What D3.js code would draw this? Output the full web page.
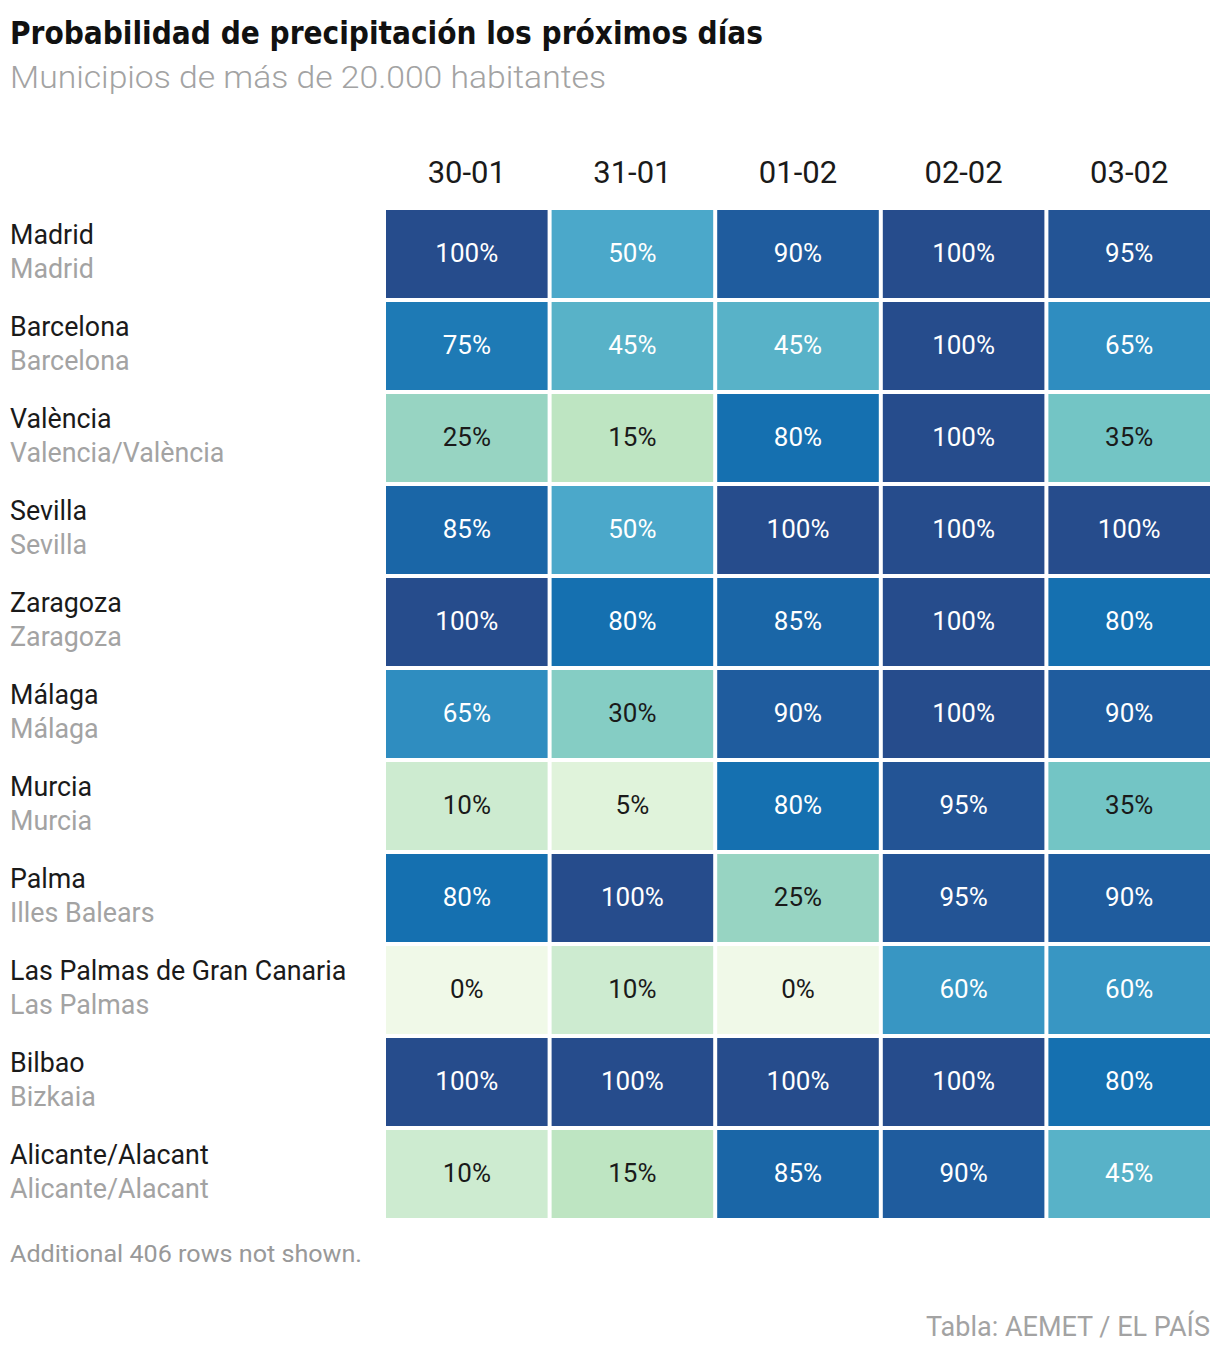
<!DOCTYPE html>
<html>
<head>
<meta charset="utf-8">
<script src="https://cdn.jsdelivr.net/npm/d3@7"></script>
<style>
  body { margin: 0; background: #fff; }
  text { font-family: Roboto, "Noto Sans", sans-serif; }
</style>
</head>
<body>
<script>
const days = ["30-01", "31-01", "01-02", "02-02", "03-02"];
const cities = ["Madrid", "Barcelona", "València", "Sevilla", "Zaragoza", "Málaga",
  "Murcia", "Palma", "Las Palmas de Gran Canaria", "Bilbao", "Alicante/Alacant"];
const provinces = ["Madrid", "Barcelona", "Valencia/València", "Sevilla", "Zaragoza", "Málaga",
  "Murcia", "Illes Balears", "Las Palmas", "Bizkaia", "Alicante/Alacant"];
const probs = [
  [100, 50, 90, 100, 95],
  [75, 45, 45, 100, 65],
  [25, 15, 80, 100, 35],
  [85, 50, 100, 100, 100],
  [100, 80, 85, 100, 80],
  [65, 30, 90, 100, 90],
  [10, 5, 80, 95, 35],
  [80, 100, 25, 95, 90],
  [0, 10, 0, 60, 60],
  [100, 100, 100, 100, 80],
  [10, 15, 85, 90, 45]
];

const width = 1220, height = 1356;

const svg = d3.select("body").append("svg")
  .attr("width", width)
  .attr("height", height);

// Title + subtitle
svg.append("text")
  .attr("x", 10).attr("y", 44)
  .attr("textLength", 753).attr("lengthAdjust", "spacingAndGlyphs")
  .style("font-family", "'Liberation Sans Narrow', 'DejaVu Sans Condensed', Roboto, sans-serif")
  .style("font-weight", 700)
  .style("font-size", "32px")
  .attr("fill", "#111")
  .text("Probabilidad de precipitación los próximos días");

svg.append("text")
  .attr("x", 10).attr("y", 88)
  .attr("textLength", 596).attr("lengthAdjust", "spacingAndGlyphs")
  .style("font-weight", 300)
  .style("font-size", "32px")
  .attr("fill", "#a3a3a3")
  .text("Municipios de más de 20.000 habitantes");

// Scales
const x = d3.scaleBand().domain(days).range([384, 1212]);
const y = d3.scaleBand().domain(d3.range(cities.length)).range([208, 1220]);
const color = d3.scaleLinear()
  .domain([0, 5, 10, 15, 25, 35, 50, 65, 80, 90, 100])
  .range(["#f0f9e8", "#e0f3db", "#cdebd0", "#bee5c2", "#97d4c2", "#73c5c5",
          "#4ba8ca", "#2f8dc0", "#1570b0", "#1f5c9e", "#264c8c"]);

// Column headers
svg.selectAll(".col")
  .data(days)
  .join("text")
  .attr("class", "col")
  .attr("x", d => x(d) + x.bandwidth() / 2)
  .attr("y", 183)
  .attr("text-anchor", "middle")
  .style("font-size", "31px")
  .attr("fill", "#1a1a1a")
  .text(d => d);

// Row labels
const rows = svg.selectAll(".row")
  .data(cities)
  .join("g")
  .attr("class", "row")
  .attr("transform", (d, i) => `translate(0,${y(i)})`);

rows.append("text")
  .attr("x", 10).attr("y", 36)
  .style("font-size", "26.8px")
  .attr("fill", "#1a1a1a")
  .text(d => d);

rows.append("text")
  .attr("x", 10).attr("y", 70)
  .style("font-size", "26.8px")
  .attr("fill", "#a3a3a3")
  .text((d, i) => provinces[i]);

// Cells
const cells = rows.selectAll(".cell")
  .data((d, i) => probs[i].map((v, j) => ({ day: days[j], v })))
  .join("g")
  .attr("class", "cell");

cells.append("rect")
  .attr("x", d => x(d.day) + 2)
  .attr("y", 2)
  .attr("width", x.bandwidth() - 4)
  .attr("height", y.bandwidth() - 4)
  .attr("fill", d => color(d.v));

cells.append("text")
  .attr("x", d => x(d.day) + x.bandwidth() / 2)
  .attr("y", y.bandwidth() / 2 + 8)
  .attr("text-anchor", "middle")
  .style("font-size", "26px")
  .attr("fill", d => d.v >= 45 ? "#fff" : "#1a1a1a")
  .text(d => d.v + "%");

// Notes
svg.append("text")
  .attr("x", 10).attr("y", 1262)
  .attr("textLength", 352).attr("lengthAdjust", "spacingAndGlyphs")
  .style("font-size", "23px")
  .attr("fill", "#999")
  .text("Additional 406 rows not shown.");

svg.append("text")
  .attr("x", 1210).attr("y", 1336)
  .attr("text-anchor", "end")
  .style("font-size", "27px")
  .attr("fill", "#a3a3a3")
  .text("Tabla: AEMET / EL PAÍS");
</script>
</body>
</html>
